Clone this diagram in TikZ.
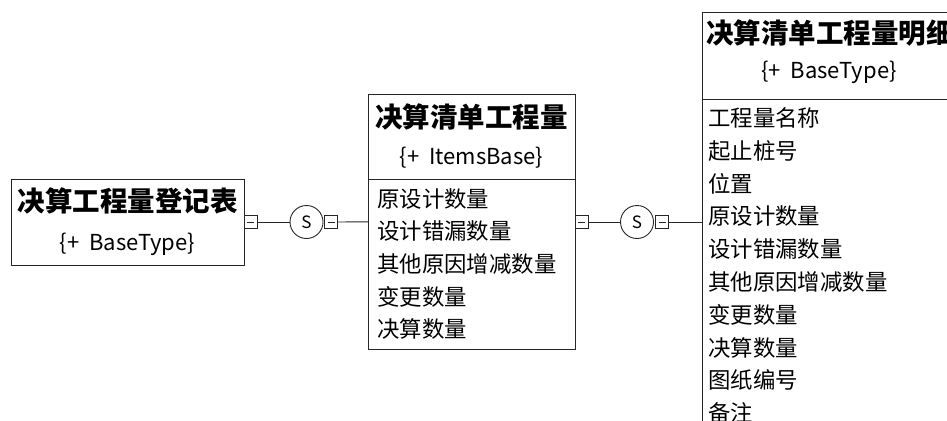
\documentclass[tikz,border=0pt]{standalone}
\usepackage{fontspec}
\setmainfont{Noto Sans CJK SC}
\begin{document}
\begin{tikzpicture}[x=1pt,y=-1pt,
  box/.style={draw=black!85,line width=1pt,inner sep=0pt,outer sep=0pt,fill=white},
  ttl/.style={font=\fontsize{27.5}{32}\selectfont\bfseries,inner sep=0pt,anchor=center},
  sub/.style={font=\fontsize{22}{26}\selectfont,inner sep=0pt,anchor=center},
  itm/.style={font=\fontsize{22.4}{28}\selectfont,inner sep=0pt,anchor=west},
  sq/.style={draw=black!85,line width=0.9pt,minimum width=13pt,minimum height=13pt,inner sep=0pt,outer sep=0pt,fill=white,
    path picture={\draw[line width=1pt] ([xshift=-3.5pt]path picture bounding box.center) -- ([xshift=3.5pt]path picture bounding box.center);}},
  sc/.style={draw=black!85,line width=0.9pt,circle,minimum size=33pt,inner sep=0pt,outer sep=0pt,font=\fontsize{17}{20}\selectfont},
  conn/.style={draw=black!85,line width=0.9pt}
]
\useasboundingbox (0,0) rectangle (947,420);
\clip (0,0) rectangle (947,420);

% Box 1
\node[box,minimum width=233pt,minimum height=86pt] (b1) at (127.5,222) {};
\node[ttl] (b1t) at (127.5,201) {决算工程量登记表};
\node[sub] (b1s) at (127.5,244) {\{+\ \ BaseType\}};

% Box 2
\node[box,minimum width=207pt,minimum height=255pt] (b2) at (471.5,221.5) {};
\draw[line width=1pt,draw=black!85] (b2.west |- 0,179) coordinate (d2a) -- (b2.east |- 0,179) coordinate (d2b);
\node[ttl] (b2t) at (471.5,117) {决算清单工程量};
\node[sub] (b2s) at (471.5,158) {\{+\ \ ItemsBase\}};
\foreach \t [count=\i from 0] in {原设计数量,设计错漏数量,其他原因增减数量,变更数量,决算数量}
  \node[itm] (b2i\i) at (377,199+32.5*\i) {\t};

% Box 3
\node[box,minimum width=254pt,minimum height=430pt] (b3) at (829,228) {};
\draw[line width=1pt,draw=black!85] (b3.west |- 0,99) coordinate (d3a) -- (b3.east |- 0,99) coordinate (d3b);
\node[ttl] (b3t) at (830,33) {决算清单工程量明细};
\node[sub] (b3s) at (829,72) {\{+\ \ BaseType\}};
\foreach \t [count=\i from 0] in {工程量名称,起止桩号,位置,原设计数量,设计错漏数量,其他原因增减数量,变更数量,决算数量,图纸编号,备注}
  \node[itm] (b3i\i) at (708,118+32.8*\i) {\t};

% Connector 1
\node[sq] (s1) at (250.5,222) {};
\node[sc] (c1) at (306.5,222) {S};
\node[sq] (s2) at (331,222) {};
\draw[conn] (s1) -- (c1);
\draw[conn] (s2) -- (b2);

% Connector 2
\node[sq] (s3) at (581.5,222) {};
\node[sc] (c2) at (637,222) {S};
\node[sq] (s4) at (662,222) {};
\draw[conn] (s3) -- (c2);
\draw[conn] (s4) -- (b3.west |- s4);
\end{tikzpicture}
\end{document}
